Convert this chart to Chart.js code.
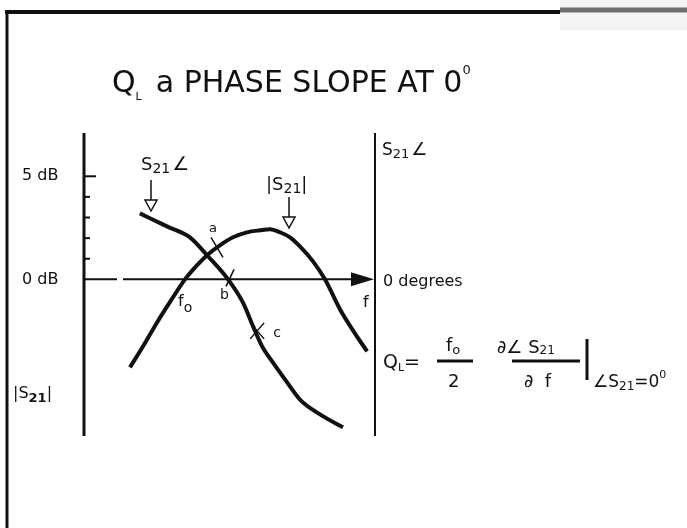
<!DOCTYPE html>
<html>
<head>
<meta charset="utf-8">
<script src="https://cdn.jsdelivr.net/npm/chart.js@4/dist/chart.umd.min.js"></script>
<style>
  html, body { margin: 0; padding: 0; background: #fff; }
</style>
</head>
<body>
<canvas id="qslope" width="687" height="528"></canvas>
<script>
// |S21| response (dB) against frequency (arbitrary units)
var magFreq = [1.58, 2.03, 2.51, 2.99, 3.47, 3.88, 4.26, 4.67, 5.12, 5.60, 6.05, 6.39, 6.74, 7.08, 7.42, 7.87, 8.28, 8.80, 9.31, 9.73];
var magDb = [-4.27, -3.25, -2.09, -1.02, 0, 0.68, 1.21, 1.65, 2.04, 2.28, 2.38, 2.43, 2.28, 2.04, 1.60, 0.87, 0, -1.46, -2.62, -3.50];

// phase of S21 (degrees) against the same frequency
var phaseFreq = [1.92, 2.85, 3.64, 4.26, 4.95, 5.46, 5.81, 6.12, 6.49, 6.98, 7.42, 8.11, 8.90];
var phaseDeg = [32.0, 25.7, 20.4, 11.2, 0, -11.2, -22.8, -32.5, -40.3, -50.0, -58.3, -65.5, -71.8];

// left axis ticks in dB, only 0 and 5 carry a label
var dbTicks = [0, 1, 2, 3, 4, 5];
var dbTickLabels = ["0 dB", "", "", "", "", "5 dB"];

// small construction marks a, b, c
var markNames = ["a", "b", "c"];
var markFreq = [4.57, 4.95, 5.95];
var markValue = [1.55, 0, -25];
var markAxis = ["y", "y2", "y2"];

var INK = "#111";
var FONT = '"DejaVu Sans", sans-serif';

function font(size, weight) {
    return (weight || "normal") + " " + size + "px " + FONT;
}

// draws a run of text pieces left to right, each with its own size and shift
function drawRun(ctx, x, y, parts) {
    parts.forEach(function (p) {
        ctx.font = font(p.size, p.weight);
        ctx.fillText(p.t, x, y + (p.dy || 0));
        x += ctx.measureText(p.t).width + (p.gap || 0);
    });
    return x;
}

function downArrow(ctx, x, y1, y2) {
    ctx.lineWidth = 1.5;
    ctx.beginPath();
    ctx.moveTo(x, y1);
    ctx.lineTo(x, y2);
    ctx.stroke();
    ctx.beginPath();
    ctx.moveTo(x - 6, y2);
    ctx.lineTo(x + 6, y2);
    ctx.lineTo(x, y2 + 11);
    ctx.closePath();
    ctx.fillStyle = "#fff";
    ctx.fill();
    ctx.stroke();
    ctx.fillStyle = INK;
}

var sketchPlugin = {
    id: "sketch",
    beforeDatasetsDraw: function (chart) {
        var ctx = chart.ctx;
        var ys = chart.scales.y;
        var area = chart.chartArea;
        var y0 = ys.getPixelForValue(0);
        ctx.save();
        ctx.strokeStyle = INK;
        ctx.fillStyle = INK;

        // page frame
        ctx.lineWidth = 3;
        ctx.beginPath();
        ctx.moveTo(7, 11);
        ctx.lineTo(7, 528);
        ctx.stroke();
        ctx.lineWidth = 4;
        ctx.beginPath();
        ctx.moveTo(5, 12);
        ctx.lineTo(560, 12);
        ctx.stroke();
        ctx.fillStyle = "#f4f4f4";
        ctx.fillRect(560, 0, 127, 30);
        ctx.strokeStyle = "#6e6e6e";
        ctx.lineWidth = 5;
        ctx.beginPath();
        ctx.moveTo(560, 10);
        ctx.lineTo(687, 10);
        ctx.stroke();
        ctx.strokeStyle = INK;
        ctx.fillStyle = INK;

        // left |S21| axis with its ticks
        ctx.lineWidth = 3;
        ctx.beginPath();
        ctx.moveTo(area.left, area.top);
        ctx.lineTo(area.left, area.bottom);
        ctx.stroke();
        ctx.lineWidth = 2;
        dbTicks.forEach(function (v, i) {
            if (v === 0) return;
            var py = ys.getPixelForValue(v);
            ctx.beginPath();
            ctx.moveTo(area.left, py);
            ctx.lineTo(area.left + (dbTickLabels[i] ? 12 : 6), py);
            ctx.stroke();
        });

        // right phase axis
        ctx.lineWidth = 2;
        ctx.beginPath();
        ctx.moveTo(area.right, area.top);
        ctx.lineTo(area.right, area.bottom);
        ctx.stroke();

        // frequency axis through 0 dB / 0 degrees, broken near the left
        ctx.beginPath();
        ctx.moveTo(area.left, y0);
        ctx.lineTo(area.left + 33, y0);
        ctx.moveTo(area.left + 39, y0);
        ctx.lineTo(area.right - 22, y0);
        ctx.stroke();
        ctx.beginPath();
        ctx.moveTo(area.right - 1, y0);
        ctx.lineTo(area.right - 24, y0 - 7);
        ctx.lineTo(area.right - 24, y0 + 7);
        ctx.closePath();
        ctx.fill();
        ctx.restore();
    },
    afterDatasetsDraw: function (chart) {
        var ctx = chart.ctx;
        var xs = chart.scales.x, ys = chart.scales.y;
        var area = chart.chartArea;
        var y0 = ys.getPixelForValue(0);
        ctx.save();
        ctx.fillStyle = INK;
        ctx.strokeStyle = INK;
        ctx.textBaseline = "alphabetic";
        ctx.textAlign = "left";

        // title
        drawRun(ctx, 112, 92, [
            { t: "Q", size: 30 },
            { t: "L", size: 11, dy: 8, gap: 14 },
            { t: "a PHASE SLOPE AT 0", size: 30 },
            { t: "0", size: 13, dy: -18 }
        ]);

        // left axis labels
        ctx.textBaseline = "middle";
        ctx.font = font(16);
        dbTicks.forEach(function (v, i) {
            if (dbTickLabels[i]) ctx.fillText(dbTickLabels[i], 22, ys.getPixelForValue(v));
        });
        ctx.textBaseline = "alphabetic";
        drawRun(ctx, 13, 398, [
            { t: "|S", size: 16 },
            { t: "21", size: 13, weight: "bold", dy: 4 },
            { t: "|", size: 16 }
        ]);

        // right axis labels
        drawRun(ctx, 382, 155, [
            { t: "S", size: 17 },
            { t: "21", size: 13, dy: 3, gap: 2 },
            { t: "\u2220", size: 18 }
        ]);
        ctx.textBaseline = "middle";
        ctx.font = font(16);
        ctx.fillText("0 degrees", 383, y0 + 2);
        ctx.textBaseline = "alphabetic";
        ctx.font = font(16);
        ctx.fillText("f", area.right - 12, y0 + 28);

        // curve names with arrows
        drawRun(ctx, 141, 170, [
            { t: "S", size: 18 },
            { t: "21", size: 14, dy: 3, gap: 2 },
            { t: "\u2220", size: 19 }
        ]);
        downArrow(ctx, 151, 180, 200);
        drawRun(ctx, 266, 190, [
            { t: "|S", size: 18 },
            { t: "21", size: 14, dy: 3 },
            { t: "|", size: 18 }
        ]);
        downArrow(ctx, 289, 197, 217);

        // f0 at the lower crossing
        drawRun(ctx, 178, 306, [
            { t: "f", size: 16 },
            { t: "o", size: 14, dy: 6 }
        ]);

        // construction marks on the curves
        ctx.lineWidth = 1.5;
        markNames.forEach(function (n, i) {
            var px = xs.getPixelForValue(markFreq[i]);
            var py = chart.scales[markAxis[i]].getPixelForValue(markValue[i]);
            ctx.beginPath();
            if (n === "a") {
                ctx.moveTo(px - 6, py - 10);
                ctx.lineTo(px + 6, py + 10);
                ctx.font = font(13);
                ctx.fillText("a", px - 8, py - 15);
            } else if (n === "b") {
                ctx.moveTo(px - 2, py + 7);
                ctx.lineTo(px + 6, py - 10);
                ctx.font = font(14);
                ctx.fillText("b", px - 8, py + 20);
            } else {
                ctx.moveTo(px - 7, py - 8);
                ctx.lineTo(px + 7, py + 8);
                ctx.moveTo(px - 7, py + 8);
                ctx.lineTo(px + 7, py - 8);
                ctx.font = font(14);
                ctx.fillText("c", px + 16, py + 6);
            }
            ctx.stroke();
        });

        // loaded Q from the phase slope
        var fy = 368;
        drawRun(ctx, 383, fy, [
            { t: "Q", size: 19 },
            { t: "L", size: 11, dy: 3 },
            { t: "=", size: 19 }
        ]);
        ctx.lineWidth = 3;
        ctx.beginPath();
        ctx.moveTo(437, fy - 7);
        ctx.lineTo(473, fy - 7);
        ctx.moveTo(512, fy - 7);
        ctx.lineTo(580, fy - 7);
        ctx.stroke();
        drawRun(ctx, 446, fy - 17, [
            { t: "f", size: 18 },
            { t: "o", size: 13, dy: 3 }
        ]);
        ctx.font = font(18);
        ctx.fillText("2", 448, fy + 19);
        drawRun(ctx, 497, fy - 15, [
            { t: "\u2202\u2220 S", size: 18 },
            { t: "21", size: 12, dy: 1 }
        ]);
        ctx.font = font(18);
        ctx.fillText("\u2202  f", 524, fy + 19);
        ctx.lineWidth = 3;
        ctx.beginPath();
        ctx.moveTo(587, fy - 29);
        ctx.lineTo(587, fy + 12);
        ctx.stroke();
        drawRun(ctx, 593, fy + 19, [
            { t: "\u2220S", size: 17 },
            { t: "21", size: 12, dy: 3 },
            { t: "=0", size: 17 },
            { t: "0", size: 11, dy: -9 }
        ]);
        ctx.restore();
    }
};

new Chart(document.getElementById("qslope"), {
    type: "scatter",
    data: {
        datasets: [
            {
                label: "|S21|",
                data: magFreq.map(function (f, i) { return { x: f, y: magDb[i] }; }),
                yAxisID: "y"
            },
            {
                label: "S21 phase",
                data: phaseFreq.map(function (f, i) { return { x: f, y: phaseDeg[i] }; }),
                yAxisID: "y2"
            }
        ]
    },
    options: {
        responsive: false,
        animation: false,
        layout: { padding: { left: 84, top: 133, right: 312, bottom: 92 } },
        elements: {
            point: { radius: 0 },
            line: { borderColor: INK, borderWidth: 4, cubicInterpolationMode: "monotone", borderCapStyle: "butt" }
        },
        datasets: { scatter: { showLine: true } },
        scales: {
            x: { type: "linear", min: 0, max: 10, display: false },
            y: { type: "linear", min: -7.6, max: 7.1, display: false },
            y2: { type: "linear", min: -76, max: 71, display: false, position: "right" }
        },
        plugins: { legend: { display: false }, tooltip: { enabled: false } }
    },
    plugins: [sketchPlugin]
});
</script>
</body>
</html>
